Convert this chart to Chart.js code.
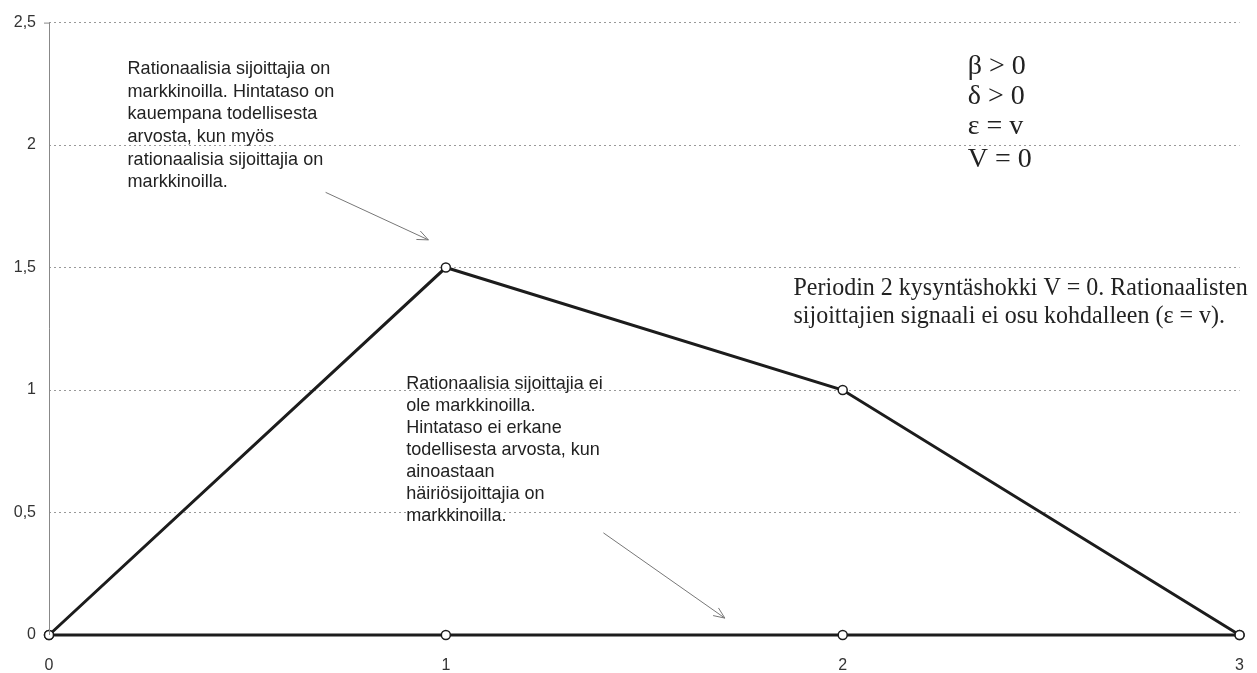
<!DOCTYPE html>
<html>
<head>
<meta charset="utf-8">
<script src="https://cdn.jsdelivr.net/npm/chart.js@4/dist/chart.umd.min.js"></script>
<style>
  body { margin: 0; background: #fff; overflow: hidden; }
</style>
</head>
<body>
<canvas id="chart" width="1257" height="673"></canvas>
<script>
// chart data
const periods = [0, 1, 2, 3];
const withRational = [0, 1.5, 1, 0];
const noiseOnly = [0, 0, 0, 0];
const yTicks = [0, 0.5, 1, 1.5, 2, 2.5];

// text boxes on the plot: x / y = data coords of first baseline, sx = horizontal squeeze
const sans = '"Liberation Sans", Arial';
const serif = '"Liberation Serif", "Times New Roman"';
const notes = [
    { x: 0.198, y: 2.289, font: '19px ' + sans, sx: 0.95, offs: [0, 22.6, 45.2, 67.8, 90.4, 113], lines: [
        'Rationaalisia sijoittajia on', 'markkinoilla. Hintataso on', 'kauempana todellisesta',
        'arvosta, kun myös', 'rationaalisia sijoittajia on', 'markkinoilla.'] },
    { x: 0.90, y: 1.005, font: '19px ' + sans, sx: 0.95, offs: [0, 22, 44, 66, 88, 110, 132], lines: [
        'Rationaalisia sijoittajia ei', 'ole markkinoilla.', 'Hintataso ei erkane',
        'todellisesta arvosta, kun', 'ainoastaan', 'häiriösijoittajia on', 'markkinoilla.'] },
    { x: 2.315, y: 2.289, font: '28px ' + serif, sx: 1, offs: [0, 30, 60, 93], lines: [
        'β > 0', 'δ > 0', 'ε = v', 'V = 0'] },
    { x: 1.876, y: 1.390, font: '25px ' + serif, sx: 0.96, offs: [0, 28], lines: [
        'Periodin 2 kysyntäshokki V = 0. Rationaalisten', 'sijoittajien signaali ei osu kohdalleen (ε = v).'] }
];
const arrows = [
    { from: [0.697, 1.807], to: [0.956, 1.613] },
    { from: [1.397, 0.417], to: [1.703, 0.069] }
];

const toPoints = vals => vals.map((v, i) => ({ x: periods[i], y: v }));

const extras = {
    id: 'extras',
    afterDatasetsDraw(chart) {
        const ctx = chart.ctx;
        const xs = chart.scales.x, ys = chart.scales.y;
        const area = chart.chartArea;
        ctx.save();
        // y axis line
        ctx.strokeStyle = '#888';
        ctx.lineWidth = 1;
        ctx.beginPath();
        ctx.moveTo(area.left + 0.5, area.top);
        ctx.lineTo(area.left + 0.5, area.bottom);
        ctx.stroke();
        ctx.beginPath();
        ctx.moveTo(area.left - 5, area.top + 0.5);
        ctx.lineTo(area.left, area.top + 0.5);
        ctx.stroke();

        // notes
        ctx.fillStyle = '#222';
        ctx.textBaseline = 'alphabetic';
        ctx.textAlign = 'left';
        notes.forEach(n => {
            ctx.font = n.font;
            const px = xs.getPixelForValue(n.x);
            const py = ys.getPixelForValue(n.y);
            n.lines.forEach((t, i) => {
                ctx.save();
                ctx.translate(px, py + n.offs[i]);
                ctx.scale(n.sx, 1);
                ctx.fillText(t, 0, 0);
                ctx.restore();
            });
        });

        // arrows
        ctx.strokeStyle = '#777';
        ctx.lineWidth = 1;
        arrows.forEach(a => {
            const x1 = xs.getPixelForValue(a.from[0]), y1 = ys.getPixelForValue(a.from[1]);
            const x2 = xs.getPixelForValue(a.to[0]), y2 = ys.getPixelForValue(a.to[1]);
            const ang = Math.atan2(y2 - y1, x2 - x1);
            ctx.beginPath();
            ctx.moveTo(x1, y1);
            ctx.lineTo(x2, y2);
            ctx.moveTo(x2 - 12 * Math.cos(ang - 0.4), y2 - 12 * Math.sin(ang - 0.4));
            ctx.lineTo(x2, y2);
            ctx.lineTo(x2 - 12 * Math.cos(ang + 0.4), y2 - 12 * Math.sin(ang + 0.4));
            ctx.stroke();
        });
        ctx.restore();
    }
};

const lineStyle = {
    borderColor: '#1c1c1c',
    borderWidth: 3,
    pointRadius: 4.5,
    pointBorderWidth: 1.5,
    pointBackgroundColor: '#fff',
    pointBorderColor: '#1c1c1c',
    tension: 0,
    clip: false
};

new Chart(document.getElementById('chart'), {
    type: 'line',
    data: {
        datasets: [
            Object.assign({ label: 'Rationaalisia sijoittajia', data: toPoints(withRational) }, lineStyle),
            Object.assign({ label: 'Ei rationaalisia', data: toPoints(noiseOnly) }, lineStyle)
        ]
    },
    options: {
        responsive: false,
        animation: false,
        layout: { padding: { top: 18, right: 12, left: 0, bottom: 0 } },
        plugins: { legend: { display: false }, tooltip: { enabled: false } },
        scales: {
            x: {
                type: 'linear',
                min: 0, max: 3,
                afterFit: s => { s.height = 38; },
                ticks: { stepSize: 1, padding: 13, color: '#333', font: { family: sans, size: 16 } },
                grid: { display: false },
                border: { display: false }
            },
            y: {
                min: 0, max: 2.5,
                afterFit: s => { s.width = 49; },
                afterBuildTicks: s => { s.ticks = yTicks.map(v => ({ value: v })); },
                ticks: {
                    padding: 13, color: '#333',
                    font: { family: sans, size: 16 },
                    callback: v => String(v).replace('.', ',')
                },
                grid: { color: '#999', lineWidth: 1, drawTicks: false },
                border: { display: false, dash: [2, 3] }
            }
        }
    },
    plugins: [extras]
});
</script>
</body>
</html>
